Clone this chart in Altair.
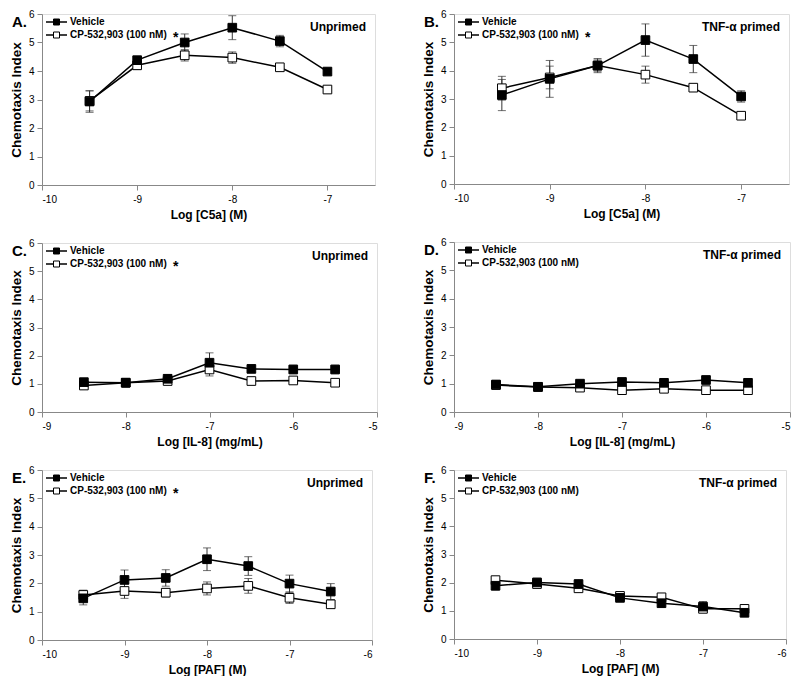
import altair as alt
import pandas as pd

FONT = "Liberation Sans"

# ---- data -------------------------------------------------------------
c5a_x = [-9.5, -9, -8.5, -8, -7.5, -7]
il8_x = [-8.5, -8, -7.5, -7, -6.5, -6, -5.5]
paf_x = [-9.5, -9, -8.5, -8, -7.5, -7, -6.5]

a_veh = [2.93, 4.38, 5.00, 5.52, 5.05, 3.98]
a_veh_err = [0.38, 0.12, 0.30, 0.42, 0.20, 0.06]
a_cp = [2.95, 4.20, 4.55, 4.47, 4.13, 3.35]
a_cp_err = [0.35, 0.15, 0.20, 0.20, 0.05, 0.08]

b_veh = [3.14, 3.71, 4.18, 5.08, 4.41, 3.09]
b_veh_err = [0.55, 0.65, 0.25, 0.57, 0.48, 0.20]
b_cp = [3.38, 3.76, 4.18, 3.86, 3.40, 2.41]
b_cp_err = [0.42, 0.40, 0.20, 0.30, 0.05, 0.05]

c_veh = [1.06, 1.04, 1.18, 1.75, 1.53, 1.51, 1.51]
c_veh_err = [0.10, 0.12, 0.15, 0.35, 0.10, 0.15, 0.15]
c_cp = [0.94, 1.04, 1.10, 1.51, 1.10, 1.12, 1.04]
c_cp_err = [0.06, 0.15, 0.08, 0.23, 0.05, 0.05, 0.05]

d_veh = [0.97, 0.89, 1.00, 1.06, 1.03, 1.13, 1.03]
d_veh_err = [0.05, 0.05, 0.06, 0.06, 0.05, 0.08, 0.06]
d_cp = [0.95, 0.88, 0.86, 0.77, 0.82, 0.77, 0.77]
d_cp_err = [0.04, 0.04, 0.04, 0.08, 0.05, 0.10, 0.06]

e_veh = [1.47, 2.12, 2.19, 2.85, 2.61, 1.99, 1.71]
e_veh_err = [0.23, 0.35, 0.29, 0.40, 0.33, 0.30, 0.28]
e_cp = [1.59, 1.73, 1.67, 1.82, 1.91, 1.49, 1.26]
e_cp_err = [0.17, 0.26, 0.15, 0.23, 0.26, 0.20, 0.10]

f_veh = [1.89, 2.01, 1.95, 1.46, 1.27, 1.15, 0.93]
f_veh_err = [0.15, 0.08, 0.15, 0.08, 0.06, 0.18, 0.08]
f_cp = [2.09, 1.95, 1.80, 1.53, 1.48, 1.07, 1.07]
f_cp_err = [0.06, 0.06, 0.06, 0.06, 0.08, 0.10, 0.06]

series_names = ["Vehicle", "CP-532,903 (100 nM)"]
y_ticks = [0, 1, 2, 3, 4, 5, 6]


def one():
    return alt.Data(values=[{"a": 1}])


def panel(letter, cond, xs, veh, veh_err, cp, cp_err, xtitle, xdom, xticks,
          star, width, height):
    rows = []
    for s, ys, es in [(series_names[1], cp, cp_err), (series_names[0], veh, veh_err)]:
        for x, y, e in zip(xs, ys, es):
            rows.append({"x": x, "y": y, "lo": y - e, "hi": y + e, "series": s})
    df = pd.DataFrame(rows)
    caps = df.melt(id_vars=["x", "series"], value_vars=["lo", "hi"], value_name="cap")

    xscale = alt.Scale(domain=xdom, nice=False, zero=False)
    yscale = alt.Scale(domain=[0, 6], nice=False, zero=False)
    xaxis = alt.Axis(values=xticks, title=xtitle, labelExpr="datum.value + ''",
                     titleFontSize=12, titlePadding=5, labelPadding=4, grid=False,
                     labelOverlap=False)
    yaxis = alt.Axis(values=y_ticks, title="Chemotaxis Index",
                     labelExpr="datum.value + ''", titleFontSize=13.5,
                     titlePadding=5, labelPadding=3, grid=False, labelOverlap=False)

    def X():
        return alt.X("x:Q", scale=xscale, axis=xaxis)

    def Y(field):
        return alt.Y(field + ":Q", scale=yscale, axis=yaxis)

    base = alt.Chart(df)
    lines = base.mark_line(color="black", strokeWidth=1.5).encode(
        x=X(), y=Y("y"), detail="series:N")
    err = base.mark_rule(color="#333", strokeWidth=1).encode(
        x=X(), y=Y("lo"), y2="hi:Q")
    capm = alt.Chart(caps).mark_tick(orient="horizontal", size=8, thickness=1,
                                     color="#333").encode(x=X(), y=Y("cap"))
    pts = base.mark_square(size=75, stroke="black", strokeWidth=1, opacity=1,
                           filled=True).encode(
        x=X(), y=Y("y"),
        fill=alt.Fill("series:N",
                      scale=alt.Scale(domain=series_names, range=["black", "white"]),
                      legend=None))

    layers = [lines, err, capm, pts]

    # manual in-plot legend
    for i, (name, fill) in enumerate(zip(series_names, ["black", "white"])):
        ly = 8 + 13 * i
        layers.append(alt.Chart(one()).mark_rule(color="black", strokeWidth=1.5).encode(
            x=alt.value(4), x2=alt.value(25), y=alt.value(ly)))
        layers.append(alt.Chart(one()).mark_square(size=36, fill=fill, stroke="black",
                                                   strokeWidth=1, opacity=1).encode(
            x=alt.value(14.5), y=alt.value(ly)))
        layers.append(alt.Chart(one()).mark_text(
            text=name, align="left", baseline="middle", font=FONT, fontWeight="bold",
            fontSize=10, color="black").encode(x=alt.value(28), y=alt.value(ly)))
    if star:
        layers.append(alt.Chart(one()).mark_text(
            text="*", align="left", baseline="middle", font=FONT, fontWeight="bold",
            fontSize=14, color="black").encode(x=alt.value(131), y=alt.value(24)))

    layers.append(alt.Chart(one()).mark_text(
        text=cond, align="right", baseline="middle", font=FONT, fontWeight="bold",
        fontSize=12, color="black").encode(x=alt.value(width - 9), y=alt.value(13)))
    layers.append(alt.Chart(one()).mark_text(
        text=letter, align="left", baseline="middle", font=FONT, fontWeight="bold",
        fontSize=15, color="black").encode(x=alt.value(-30), y=alt.value(8)))

    return alt.layer(*layers).properties(width=width, height=height)


A = panel("A.", "Unprimed", c5a_x, a_veh, a_veh_err, a_cp, a_cp_err,
          "Log [C5a] (M)", [-10, -6.5], [-10, -9, -8, -7], True, 333, 171)
B = panel("B.", "TNF-α primed", c5a_x, b_veh, b_veh_err, b_cp, b_cp_err,
          "Log [C5a] (M)", [-10, -6.5], [-10, -9, -8, -7], True, 335, 170)
C = panel("C.", "Unprimed", il8_x, c_veh, c_veh_err, c_cp, c_cp_err,
          "Log [IL-8] (mg/mL)", [-9, -5], [-9, -8, -7, -6, -5], True, 335, 169)
D = panel("D.", "TNF-α primed", il8_x, d_veh, d_veh_err, d_cp, d_cp_err,
          "Log [IL-8] (mg/mL)", [-9, -5], [-9, -8, -7, -6, -5], False, 336, 170)
E = panel("E.", "Unprimed", paf_x, e_veh, e_veh_err, e_cp, e_cp_err,
          "Log [PAF] (M)", [-10, -6], [-10, -9, -8, -7, -6], True, 330, 170)
F = panel("F.", "TNF-α primed", paf_x, f_veh, f_veh_err, f_cp, f_cp_err,
          "Log [PAF] (M)", [-10, -6], [-10, -9, -8, -7, -6], False, 332, 169)

left = alt.vconcat(A, C, E, spacing=16)
right = alt.vconcat(B, D, F, spacing=16)

chart = alt.hconcat(left, right, spacing=42).properties(
    padding={"left": 0, "top": 0, "right": 0, "bottom": 0}
).configure_axis(
    labelFont=FONT, labelFontWeight="bold", labelFontSize=10, labelColor="black",
    titleFont=FONT, titleFontWeight="bold", titleColor="black",
    domainColor="#666", tickColor="#666", tickSize=3, grid=False
).configure_view(
    stroke="#888", strokeWidth=1
).configure(background="white")

chart.save("out.html", embed_options={"renderer": "svg", "actions": False})
